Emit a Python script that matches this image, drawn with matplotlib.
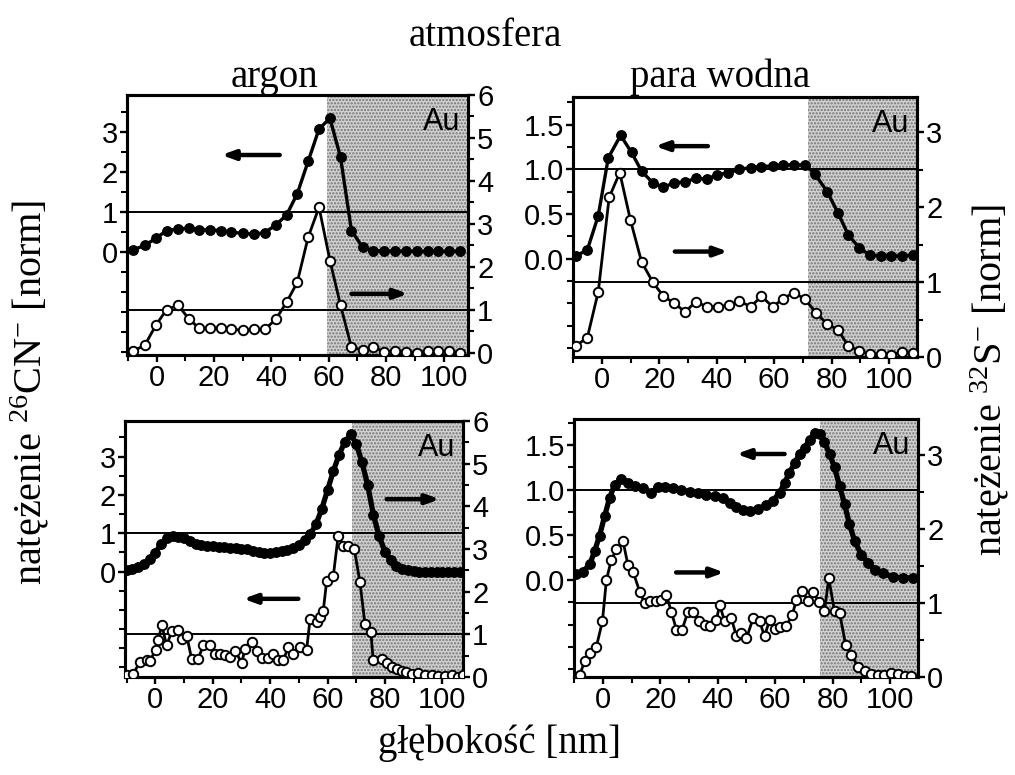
import matplotlib
matplotlib.use('Agg')
import matplotlib.pyplot as plt
import numpy as np
from matplotlib.ticker import FixedLocator, FixedFormatter

plt.rcParams['font.family'] = ['Liberation Sans', 'DejaVu Sans']
plt.rcParams['mathtext.fontset'] = 'custom'
plt.rcParams['mathtext.rm'] = 'Liberation Serif'
plt.rcParams['mathtext.it'] = 'Liberation Serif:italic'
plt.rcParams['hatch.linewidth'] = 1.1

# ---------------- data ----------------
# top-left: argon, sample 1
tl_cn_x = [-8.1, -4.1, -0.2, 3.5, 7.5, 11.3, 14.9, 18.6, 22.4, 26.1, 30.2, 34.0, 37.7, 41.5, 45.3, 49.0,
           52.8, 56.6, 60.4, 64.1, 67.9, 71.8, 75.5, 79.2, 83.0, 86.9, 90.6, 94.4, 98.1, 102.0, 105.7]
tl_cn_y = [0.06, 0.17, 0.35, 0.54, 0.58, 0.60, 0.56, 0.56, 0.54, 0.50, 0.47, 0.45, 0.49, 0.68, 0.93, 1.46,
           2.27, 3.08, 3.35, 2.37, 0.54, 0.12, 0.04, 0.03, 0.03, 0.02, 0.02, 0.02, 0.02, 0.02, 0.02]
tl_s_x = tl_cn_x
tl_s_y = [0.05, 0.18, 0.65, 1.01, 1.11, 0.79, 0.57, 0.59, 0.58, 0.55, 0.53, 0.55, 0.55, 0.78, 1.18, 1.64,
          2.69, 3.39, 2.15, 1.11, 0.13, 0.07, 0.14, 0.03, 0.05, 0.03, 0.0, 0.05, 0.04, 0.04, 0.0]

# top-right: para wodna, sample 1
tr_cn_x = [-9.1, -5.1, -1.3, 2.2, 6.5, 10.3, 13.8, 17.7, 21.4, 25.2, 28.9, 32.8, 36.5, 40.2, 44.0, 47.8,
           51.8, 55.6, 59.5, 63.2, 66.9, 70.8, 74.2, 78.5, 82.3, 85.8, 89.7, 93.4, 97.1, 100.9, 104.7, 108.4]
tr_cn_y = [0.03, 0.10, 0.48, 1.13, 1.38, 1.19, 0.98, 0.85, 0.80, 0.85, 0.86, 0.90, 0.89, 0.94, 0.96, 1.00,
           1.02, 1.03, 1.04, 1.05, 1.05, 1.05, 0.95, 0.75, 0.51, 0.27, 0.12, 0.04, 0.03, 0.03, 0.03, 0.04]
tr_s_x = [-9.0, -5.1, -1.3, 2.5, 6.2, 9.9, 13.8, 17.7, 21.4, 25.2, 29.0, 32.7, 36.5, 40.3, 44.3, 47.9,
          51.8, 55.6, 59.5, 63.2, 66.9, 70.8, 74.6, 78.5, 82.3, 85.8, 89.7, 93.4, 97.1, 100.9, 104.7, 108.4]
tr_s_y = [0.15, 0.26, 0.87, 2.13, 2.46, 1.83, 1.27, 1.00, 0.81, 0.72, 0.60, 0.74, 0.67, 0.67, 0.69, 0.75,
          0.67, 0.81, 0.67, 0.78, 0.86, 0.77, 0.59, 0.44, 0.36, 0.15, 0.08, 0.04, 0.04, 0.03, 0.07, 0.05]

# bottom-left: argon, sample 2
bl_cn_x = [-10, -8, -6, -4, -2, 0, 2, 4, 6, 8, 10, 12, 14, 16, 18, 20, 22, 24, 26, 28, 30, 32, 34, 36, 38,
           40, 42, 44, 46, 48, 50, 52, 54, 56, 58, 60, 62, 64, 66, 68, 70, 72, 74, 76, 78, 80, 82, 84, 86,
           88, 90, 92, 94, 96, 98, 100, 102, 104, 106]
bl_cn_y = [0.04, 0.07, 0.12, 0.20, 0.33, 0.49, 0.73, 0.88, 0.92, 0.91, 0.87, 0.81, 0.73, 0.69, 0.67, 0.66,
           0.65, 0.63, 0.62, 0.61, 0.60, 0.58, 0.55, 0.51, 0.48, 0.48, 0.50, 0.53, 0.57, 0.62, 0.70, 0.82,
           0.98, 1.24, 1.64, 2.13, 2.62, 3.05, 3.38, 3.58, 3.34, 2.85, 2.25, 1.47, 0.92, 0.52, 0.29, 0.15,
           0.07, 0.03, 0.01, 0.0, -0.01, -0.02, -0.02, -0.02, -0.02, -0.02, -0.02]
bl_s_x = [-10.0, -7.7, -5.4, -3.1, -1.9, 0.1, 1.0, 2.2, 3.9, 5.7, 7.8, 9.1, 10.9, 12.6, 14.9, 16.7, 19.0,
          20.8, 22.5, 24.2, 26.0, 27.7, 30.1, 31.2, 33.5, 35.3, 37.0, 39.3, 41.1, 42.8, 44.6, 46.3, 48.1,
          50.4, 52.7, 53.9, 56.2, 57.4, 58.5, 59.7, 62.0, 63.7, 65.5, 67.2, 69.3, 71.3, 73.0, 75.1, 75.9,
          78.8, 80.6, 82.3, 84.1, 85.8, 87.5, 89.3, 91.6, 93.9, 96.3, 98.6, 100.9, 103.2, 105.5, 107.3]
bl_s_y = [0.04, 0.08, 0.35, 0.39, 0.38, 0.64, 0.86, 1.23, 0.74, 1.07, 1.09, 0.90, 0.97, 0.43, 0.43, 0.74,
          0.74, 0.53, 0.54, 0.51, 0.47, 0.62, 0.33, 0.66, 0.82, 0.62, 0.45, 0.45, 0.54, 0.39, 0.40, 0.70,
          0.54, 0.70, 0.64, 1.36, 1.29, 1.40, 1.55, 2.26, 2.37, 3.31, 3.08, 3.08, 3.00, 2.22, 1.25, 1.05,
          0.39, 0.43, 0.32, 0.24, 0.19, 0.15, 0.11, 0.08, 0.09, 0.04, 0.04, 0.02, 0.02, 0.04, 0.0, 0.04]

# bottom-right: para wodna, sample 2
br_cn_x = [-9.3, -7.0, -4.6, -2.9, -1.2, 0.6, 2.3, 4.1, 6.4, 8.7, 11.0, 13.9, 16.8, 19.2, 21.5, 24.4, 27.3,
           30.2, 33.1, 36.0, 38.9, 41.8, 44.1, 46.5, 48.8, 51.1, 54.0, 56.9, 59.2, 61.6, 63.3, 65.0, 66.8,
           68.5, 70.3, 72.0, 73.8, 75.5, 77.2, 79.0, 80.7, 82.5, 84.2, 85.9, 87.7, 90.0, 92.3, 94.7, 97.6,
           101.0, 104.5, 108.0]
br_cn_y = [0.06, 0.09, 0.17, 0.32, 0.49, 0.71, 0.91, 1.06, 1.12, 1.08, 1.04, 1.02, 0.97, 1.03, 1.03, 1.02,
           1.00, 0.98, 0.97, 0.94, 0.93, 0.91, 0.85, 0.81, 0.78, 0.77, 0.79, 0.83, 0.88, 0.97, 1.08, 1.19,
           1.30, 1.40, 1.47, 1.56, 1.63, 1.62, 1.53, 1.40, 1.25, 1.04, 0.84, 0.62, 0.43, 0.28, 0.19, 0.11,
           0.07, 0.03, 0.02, 0.02]
br_s_x = [-8.1, -6.4, -4.6, -2.3, -0.2, 1.2, 2.9, 4.7, 7.0, 8.7, 10.5, 12.8, 14.5, 16.3, 18.6, 20.3, 22.1,
          23.8, 25.6, 27.6, 29.6, 31.4, 33.5, 35.4, 37.4, 39.5, 40.7, 42.4, 44.7, 46.5, 48.2, 50.0, 52.3,
          54.6, 56.3, 58.1, 59.8, 61.8, 63.9, 66.0, 67.4, 69.5, 71.4, 73.2, 75.3, 77.2, 78.7, 80.7, 82.5,
          84.6, 86.5, 88.9, 91.2, 93.5, 95.8, 98.1, 100.5, 102.8, 105.1, 107.4]
br_s_y = [0.03, 0.21, 0.32, 0.41, 0.75, 1.31, 1.58, 1.72, 1.83, 1.51, 1.42, 1.15, 1.00, 1.02, 1.02, 1.04,
          1.11, 0.88, 0.64, 0.64, 0.88, 0.88, 0.76, 0.70, 0.69, 0.77, 0.97, 0.75, 0.80, 0.55, 0.59, 0.52,
          0.79, 0.75, 0.55, 0.77, 0.65, 0.68, 0.69, 0.84, 1.04, 1.16, 1.03, 1.15, 1.01, 0.89, 1.33, 0.89,
          0.86, 0.43, 0.30, 0.14, 0.08, 0.04, 0.03, 0.03, 0.05, 0.04, 0.02, 0.02]

au_start = [59.3, 71.8, 68.4, 75.5]          # TL, TR, BL, BR
x_ticks = [0, 20, 40, 60, 80, 100]
left_ticks_ar = [0, 1, 2, 3]
left_ticks_pw = [0.0, 0.5, 1.0, 1.5]
right_ticks_ar = [0, 1, 2, 3, 4, 5, 6]
right_ticks_pw = [0, 1, 2, 3]

# ---------------- figure ----------------
fig = plt.figure(figsize=(10.15, 7.75), dpi=100)
W, H = 1015.0, 775.0

def box(x0, y0, x1, y1):
    return [x0 / W, 1 - y1 / H, (x1 - x0) / W, (y1 - y0) / H]

panels = [
    dict(rect=box(127, 95, 468, 355), xlim=(-10.3, 108.5), ylimL=(-2.57, 3.93), ylimR=(-0.047, 6.0),
         cx=tl_cn_x, cy=tl_cn_y, sx=tl_s_x, sy=tl_s_y, au=au_start[0], kind='ar', dense=False,
         arrows=[((42.9, 2.43), (22.6, 2.43)), ((67.9, -1.04), (87.6, -1.04))]),
    dict(rect=box(573, 97, 917, 357), xlim=(-10.1, 109.8), ylimL=(-1.10, 1.81), ylimR=(0.0, 3.47),
         cx=tr_cn_x, cy=tr_cn_y, sx=tr_s_x, sy=tr_s_y, au=au_start[1], kind='pw', dense=False,
         arrows=[((36.9, 1.26), (18.5, 1.26)), ((25.4, 0.08), (43.9, 0.08))]),
    dict(rect=box(125, 421, 463, 677), xlim=(-10.6, 107.2), ylimL=(-2.75, 3.93), ylimR=(0.0, 6.0),
         cx=bl_cn_x, cy=bl_cn_y, sx=bl_s_x, sy=bl_s_y, au=au_start[2], kind='ar', dense=True,
         arrows=[((80.6, 1.89), (99.1, 1.89)), ((49.8, -0.71), (30.6, -0.71))]),
    dict(rect=box(574, 419, 918, 677), xlim=(-10.1, 109.8), ylimL=(-1.085, 1.79), ylimR=(0.0, 3.48),
         cx=br_cn_x, cy=br_cn_y, sx=br_s_x, sy=br_s_y, au=au_start[3], kind='pw', dense=True,
         arrows=[((63.3, 1.40), (46.5, 1.40)), ((25.5, 0.08), (42.3, 0.08))]),
]

TICKFS = 21
for p in panels:
    ax = fig.add_axes(p['rect'])
    ax2 = ax.twinx()
    ax.set_xlim(*p['xlim'])
    ax.set_ylim(*p['ylimL'])
    ax2.set_ylim(*p['ylimR'])

    ax.axvspan(p['au'], p['xlim'][1], facecolor='#d2d2d2', edgecolor='#747474',
               hatch='.....', linewidth=0, zorder=0)

    ax.axhline(1.0, color='black', lw=1.4, zorder=1)
    ax2.axhline(1.0, color='black', lw=1.4, zorder=1)

    n1 = min(len(p['cx']), len(p['cy']))
    n2 = min(len(p['sx']), len(p['sy']))
    lw_c = 3.8 if p['dense'] else 2.4
    ax.plot(p['cx'][:n1], p['cy'][:n1], '-o', color='black', lw=lw_c, ms=6.8,
            mfc='black', mec='black', zorder=3)
    ax2.plot(p['sx'][:n2], p['sy'][:n2], '-o', color='black', lw=2.0, ms=6.8,
             mfc='white', mec='black', mew=1.4, zorder=3)

    for (tail, head) in p['arrows']:
        ax.annotate('', xy=head, xytext=tail,
                    arrowprops=dict(arrowstyle='-|>,head_length=0.55,head_width=0.2',
                                    color='black', lw=3.2, shrinkA=0, shrinkB=0,
                                    mutation_scale=14), zorder=4)

    ax.text(0.978, 0.955, 'Au', transform=ax.transAxes, ha='right', va='top',
            fontsize=22, family=['Liberation Sans'], zorder=5)

    # ticks
    ax.xaxis.set_major_locator(FixedLocator(x_ticks))
    ax.xaxis.set_minor_locator(FixedLocator(list(range(-10, 111, 10))))
    if p['kind'] == 'ar':
        lt = left_ticks_ar
        ax.yaxis.set_major_locator(FixedLocator(lt))
        ax.yaxis.set_major_formatter(FixedFormatter([str(v) for v in lt]))
        ax.yaxis.set_minor_locator(FixedLocator(list(np.arange(-2.5, 4.0, 0.5))))
        rt = right_ticks_ar
    else:
        lt = left_ticks_pw
        ax.yaxis.set_major_locator(FixedLocator(lt))
        ax.yaxis.set_major_formatter(FixedFormatter(['%.1f' % v for v in lt]))
        ax.yaxis.set_minor_locator(FixedLocator(list(np.arange(-1.0, 1.8, 0.25))))
        rt = right_ticks_pw
    ax2.yaxis.set_major_locator(FixedLocator(rt))
    ax2.yaxis.set_major_formatter(FixedFormatter([str(v) for v in rt]))
    ax2.yaxis.set_minor_locator(FixedLocator(list(np.arange(0, rt[-1] + 0.6, 0.5))))

    for a in (ax, ax2):
        for s in a.spines.values():
            s.set_linewidth(2.2)
        a.tick_params(which='major', direction='out', length=5, width=1.7, labelsize=TICKFS, pad=1.5)
        a.tick_params(which='minor', direction='out', length=4, width=1.5)
    ax.tick_params(axis='y', which='both', right=False)
    ax.tick_params(axis='x', which='both', top=False)
    ax2.tick_params(axis='y', which='both', left=False)

SERIF = ['Liberation Serif', 'DejaVu Serif']
fig.text(485 / W, 1 - 37 / H, 'atmosfera', ha='center', va='center', fontsize=28, family=SERIF)
fig.text(275 / W, 1 - 77 / H, 'argon', ha='center', va='center', fontsize=28, family=SERIF)
fig.text(720 / W, 1 - 77 / H, 'para wodna', ha='center', va='center', fontsize=28, family=SERIF)
fig.text(500 / W, 1 - 743 / H, 'głębokość [nm]', ha='center', va='center', fontsize=28, family=SERIF)
fig.text(30 / W, 1 - 392 / H, r'natężenie $^{26}$CN$^{-}$ [norm]', ha='center', va='center',
         rotation=90, fontsize=29, family=SERIF)
fig.text(990 / W, 1 - 380 / H, r'natężenie $^{32}$S$^{-}$ [norm]', ha='center', va='center',
         rotation=90, fontsize=29, family=SERIF)

fig.savefig('out.png', dpi=100)
